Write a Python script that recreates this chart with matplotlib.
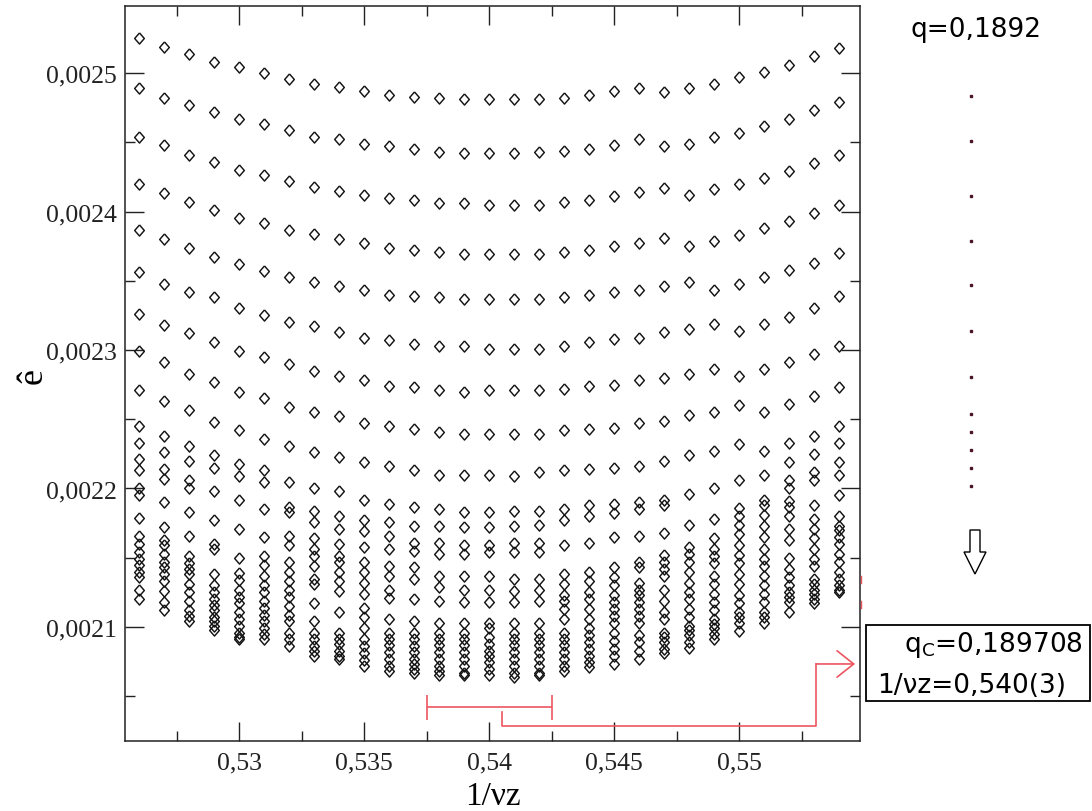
import numpy as np
import matplotlib.pyplot as plt
from matplotlib.ticker import MultipleLocator, FuncFormatter
from matplotlib.patches import Polygon, Rectangle

plt.rcParams['mathtext.fontset'] = 'dejavusans'

# 1/(nu z) positions of the columns
inv_nu_z = [0.526, 0.527, 0.528, 0.529, 0.530, 0.531, 0.532, 0.533, 0.534, 0.535,
            0.536, 0.537, 0.538, 0.539, 0.540, 0.541, 0.542, 0.543, 0.544, 0.545,
            0.546, 0.547, 0.548, 0.549, 0.550, 0.551, 0.552, 0.553, 0.554]

# e-hat values (units of 1e-6) read at each column, top to bottom
e_0526 = [2525, 2489, 2454, 2420, 2387, 2356, 2326, 2299, 2271, 2245, 2233, 2221, 2213, 2200, 2195, 2179, 2166, 2160, 2154, 2149, 2145, 2140, 2136, 2127, 2120]
e_0527 = [2519, 2482, 2448, 2413, 2380, 2348, 2318, 2291, 2263, 2238, 2226, 2214, 2207, 2190, 2172, 2163, 2159, 2153, 2147, 2143, 2138, 2133, 2126, 2118, 2112]
e_0528 = [2514, 2477, 2441, 2407, 2374, 2342, 2312, 2283, 2257, 2231, 2220, 2206, 2200, 2183, 2166, 2151, 2146, 2142, 2138, 2131, 2125, 2119, 2112, 2108, 2104]
e_0529 = [2508, 2472, 2436, 2401, 2367, 2338, 2306, 2277, 2248, 2224, 2215, 2198, 2177, 2160, 2156, 2138, 2130, 2125, 2120, 2116, 2112, 2107, 2104, 2101, 2098]
e_0530 = [2504, 2467, 2430, 2395, 2362, 2330, 2299, 2270, 2242, 2218, 2209, 2192, 2171, 2150, 2139, 2134, 2127, 2122, 2117, 2111, 2106, 2101, 2096, 2093, 2091]
e_0531 = [2500, 2463, 2426, 2392, 2357, 2325, 2295, 2265, 2236, 2213, 2205, 2185, 2165, 2151, 2145, 2137, 2130, 2125, 2119, 2114, 2109, 2104, 2099, 2095, 2091]
e_0532 = [2496, 2459, 2422, 2387, 2353, 2320, 2290, 2259, 2231, 2205, 2187, 2183, 2166, 2159, 2147, 2140, 2133, 2127, 2122, 2115, 2109, 2104, 2096, 2091, 2086]
e_0533 = [2492, 2454, 2418, 2384, 2349, 2317, 2285, 2255, 2226, 2200, 2184, 2176, 2164, 2156, 2151, 2144, 2135, 2131, 2117, 2104, 2096, 2091, 2086, 2083, 2079]
e_0534 = [2490, 2452, 2415, 2380, 2346, 2313, 2281, 2252, 2223, 2198, 2180, 2171, 2160, 2151, 2147, 2140, 2133, 2126, 2111, 2096, 2091, 2088, 2083, 2079, 2077]
e_0535 = [2487, 2449, 2412, 2377, 2343, 2309, 2278, 2247, 2219, 2192, 2177, 2169, 2158, 2147, 2140, 2132, 2124, 2114, 2107, 2099, 2091, 2086, 2081, 2076, 2072]
e_0536 = [2484, 2447, 2410, 2374, 2340, 2307, 2274, 2245, 2216, 2189, 2176, 2166, 2156, 2144, 2137, 2127, 2121, 2106, 2096, 2091, 2087, 2082, 2077, 2072, 2068]
e_0537 = [2483, 2445, 2408, 2372, 2339, 2304, 2273, 2243, 2213, 2187, 2173, 2161, 2155, 2143, 2135, 2120, 2104, 2096, 2091, 2086, 2082, 2077, 2073, 2070, 2067]
e_0538 = [2482, 2443, 2406, 2371, 2338, 2303, 2271, 2241, 2210, 2185, 2173, 2161, 2153, 2137, 2129, 2119, 2103, 2096, 2091, 2087, 2082, 2077, 2072, 2068, 2065]
e_0539 = [2481, 2442, 2406, 2369, 2337, 2303, 2270, 2239, 2210, 2183, 2172, 2159, 2153, 2137, 2127, 2118, 2103, 2096, 2091, 2087, 2082, 2077, 2072, 2067, 2065]
e_0540 = [2481, 2442, 2405, 2369, 2337, 2301, 2271, 2239, 2210, 2183, 2172, 2159, 2154, 2137, 2127, 2118, 2103, 2099, 2093, 2088, 2083, 2079, 2075, 2070, 2065]
e_0541 = [2481, 2442, 2405, 2369, 2337, 2301, 2271, 2239, 2209, 2184, 2173, 2161, 2154, 2135, 2126, 2118, 2103, 2096, 2091, 2087, 2082, 2077, 2072, 2067, 2064]
e_0542 = [2481, 2443, 2405, 2369, 2337, 2301, 2271, 2239, 2212, 2184, 2174, 2161, 2154, 2135, 2127, 2119, 2103, 2096, 2091, 2087, 2082, 2077, 2072, 2067, 2065]
e_0543 = [2482, 2444, 2407, 2371, 2338, 2303, 2272, 2242, 2213, 2185, 2177, 2159, 2138, 2131, 2123, 2119, 2113, 2106, 2096, 2091, 2087, 2082, 2077, 2072, 2068]
e_0544 = [2484, 2445, 2408, 2372, 2340, 2306, 2274, 2243, 2214, 2188, 2180, 2161, 2140, 2133, 2125, 2120, 2113, 2106, 2099, 2094, 2089, 2084, 2079, 2075, 2071]
e_0545 = [2487, 2448, 2411, 2375, 2342, 2308, 2275, 2244, 2215, 2189, 2182, 2165, 2143, 2136, 2130, 2123, 2118, 2113, 2108, 2103, 2096, 2090, 2084, 2079, 2073]
e_0546 = [2489, 2452, 2414, 2377, 2343, 2309, 2278, 2247, 2216, 2190, 2185, 2166, 2147, 2143, 2132, 2127, 2123, 2118, 2113, 2108, 2103, 2094, 2089, 2083, 2077]
e_0547 = [2486, 2447, 2417, 2381, 2346, 2313, 2280, 2249, 2220, 2192, 2188, 2168, 2152, 2147, 2142, 2137, 2127, 2119, 2111, 2106, 2096, 2093, 2089, 2084, 2081]
e_0548 = [2489, 2449, 2412, 2375, 2349, 2315, 2283, 2253, 2224, 2196, 2174, 2158, 2153, 2147, 2140, 2132, 2125, 2120, 2113, 2107, 2101, 2098, 2094, 2089, 2085]
e_0549 = [2492, 2454, 2416, 2379, 2343, 2319, 2286, 2255, 2227, 2200, 2178, 2164, 2156, 2151, 2146, 2137, 2131, 2124, 2118, 2112, 2106, 2102, 2099, 2095, 2091]
e_0550 = [2497, 2457, 2420, 2383, 2348, 2314, 2281, 2260, 2232, 2206, 2186, 2180, 2174, 2167, 2159, 2152, 2146, 2138, 2131, 2123, 2117, 2111, 2107, 2103, 2097]
e_0551 = [2501, 2462, 2424, 2388, 2353, 2319, 2286, 2255, 2227, 2210, 2192, 2188, 2181, 2173, 2165, 2156, 2149, 2144, 2137, 2130, 2124, 2118, 2111, 2107, 2103]
e_0552 = [2506, 2467, 2429, 2393, 2358, 2324, 2291, 2261, 2233, 2219, 2206, 2200, 2191, 2187, 2180, 2171, 2163, 2150, 2142, 2136, 2130, 2125, 2122, 2118, 2111]
e_0553 = [2512, 2473, 2435, 2399, 2363, 2330, 2297, 2267, 2238, 2225, 2212, 2206, 2188, 2178, 2171, 2164, 2156, 2149, 2144, 2135, 2131, 2127, 2124, 2120, 2117]
e_0554 = [2518, 2479, 2441, 2405, 2370, 2339, 2303, 2273, 2245, 2233, 2219, 2210, 2195, 2180, 2173, 2170, 2165, 2160, 2153, 2147, 2140, 2135, 2130, 2127, 2125]

columns = [e_0526, e_0527, e_0528, e_0529, e_0530, e_0531, e_0532, e_0533, e_0534, e_0535,
           e_0536, e_0537, e_0538, e_0539, e_0540, e_0541, e_0542, e_0543, e_0544, e_0545,
           e_0546, e_0547, e_0548, e_0549, e_0550, e_0551, e_0552, e_0553, e_0554]

# fitted result shown by the red bracket
fit_center = 0.540
fit_half = 0.0025
fit_level = 2042.2e-6

red = '#ec5560'
serif = 'Liberation Serif'
sans = 'DejaVu Sans'

fig = plt.figure(figsize=(10.92, 8.12), dpi=100)
ax = fig.add_axes([0.11474, 0.08658, 0.67308, 0.90517])

diamond = [(0, 1), (0.87, 0), (0, -1), (-0.87, 0), (0, 1)]
for x, col in zip(inv_nu_z, columns):
    ax.plot([x] * len(col), np.array(col) * 1e-6, ls='none', marker=diamond, ms=8.0,
            mfc='none', mec='#141414', mew=1.05)

ax.set_xlim(0.52544, 0.55484)
ax.set_ylim(0.0020179, 0.0025486)

fmt = FuncFormatter(lambda v, p: ('%g' % v).replace('.', ','))
ax.xaxis.set_major_locator(MultipleLocator(0.005))
ax.xaxis.set_minor_locator(MultipleLocator(0.0025))
ax.yaxis.set_major_locator(MultipleLocator(0.0001))
ax.yaxis.set_minor_locator(MultipleLocator(0.00005))
ax.xaxis.set_major_formatter(fmt)
ax.yaxis.set_major_formatter(fmt)
ax.tick_params(which='both', direction='in', top=True, right=True, width=1.0, color='#222222')
ax.tick_params(which='major', length=13.7)
ax.tick_params(which='minor', length=7.2)
ax.tick_params(axis='x', pad=8)
ax.tick_params(axis='y', pad=6)
for lab in ax.get_xticklabels() + ax.get_yticklabels():
    lab.set_fontfamily(serif)
    lab.set_fontsize(18.5)
    lab.set_color('#222222')
for s in ax.spines.values():
    s.set_linewidth(1.1)
    s.set_color('#222222')

# red bracket and connector to the result box
ax.errorbar([fit_center], [fit_level], xerr=[fit_half], fmt='none', ecolor=red,
            elinewidth=1.2, capsize=9, capthick=1.2)
ax.plot([0.54051, 0.54051, 0.55307, 0.55307], [2038.6e-6, 2028.5e-6, 2028.5e-6, 2073.3e-6],
        color=red, lw=1.2)
ax.annotate('', xy=(0.55463, 2073.3e-6), xytext=(0.55307, 2073.3e-6),
            arrowprops=dict(arrowstyle='->,head_length=1.2,head_width=0.95', color=red,
                            lw=1.2, shrinkA=0, shrinkB=0, mutation_scale=10))

# overlay in pixel units for the side decorations
ov = fig.add_axes([0, 0, 1, 1])
ov.set_xlim(0, 1092)
ov.set_ylim(812, 0)
ov.axis('off')
ov.patch.set_alpha(0)

ov.text(33, 376, 'ê', rotation=90, ha='center', va='center', family=serif, fontsize=26)
ov.text(492.7, 805, '1/νz', ha='center', va='baseline', family=serif, fontsize=24)

ov.text(976, 37, 'q=0,1892', ha='center', va='baseline', family=sans, fontsize=19)
dot_y = [97, 142, 197, 242, 286, 332, 378, 415, 433, 451, 469, 487]
ov.plot([971] * len(dot_y), dot_y, ls='none', marker='s', ms=1.7, color='#4a1525')
ov.add_patch(Polygon([(970, 531), (980, 531), (980, 553), (986, 553), (975, 575),
                      (964, 553), (970, 553)], closed=True, fc='white', ec='black', lw=1))
ov.add_patch(Rectangle((866, 626), 224, 76, fill=False, ec='black', lw=1.3))
ov.text(1083, 652, r'q$_\mathregular{C}$=0,189708', ha='right', va='baseline', family=sans, fontsize=19)
ov.text(877, 693, '1/νz=0,540(3)', ha='left', va='baseline', family=sans, fontsize=19)
ov.plot([861, 861], [577, 584], color=red, lw=1)
ov.plot([861, 861], [602, 609], color=red, lw=1)

fig.savefig('out.png', dpi=100)
